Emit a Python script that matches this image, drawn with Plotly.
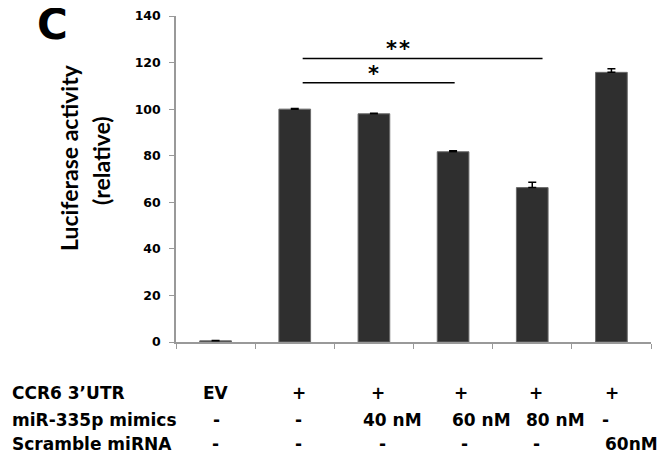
import plotly.graph_objects as go

categories = ["EV", "UTR", "40nM", "60nM", "80nM", "Scramble"]
values = [0.5, 100.0, 98.0, 81.7, 66.3, 115.8]
errors = [0.1, 0.3, 0.2, 0.4, 2.3, 1.5]
y_ticks = [0, 20, 40, 60, 80, 100, 120, 140]

row_labels = ["CCR6 3\u2019UTR", "miR-335p mimics", "Scramble miRNA"]
row1 = ["EV", "+", "+", "+", "+", "+"]
row2 = ["-", "-", "40 nM", "60 nM", "80 nM", "-"]
row3 = ["-", "-", "-", "-", "-", "60nM"]

sig_labels = ["*", "*\u200a*"]
sig_levels = [111.3, 121.8]
sig_ends = [3.02, 4.13]

FONT = "DejaVu Sans"

fig = go.Figure()
fig.add_trace(go.Bar(
    x=list(range(len(categories))), y=values,
    marker=dict(color="#2f2f2f", line=dict(color="#6a6a6a", width=1)),
    error_y=dict(type="data", array=errors, symmetric=False, arrayminus=[0]*6,
                 color="black", thickness=1.5, width=4, visible=True),
    width=0.4,
))

# significance lines
shapes = []
for lvl, end in zip(sig_levels, sig_ends):
    shapes.append(dict(type="line", xref="x", yref="y", x0=1.1, x1=end, y0=lvl, y1=lvl,
                       line=dict(color="black", width=1.5)))

ann = []
star_x = [2.0, 2.30]
for lab, lvl, sx in zip(sig_labels, sig_levels, star_x):
    ann.append(dict(text="<b>%s</b>" % lab, xref="x", yref="y", x=sx, y=lvl,
                    yshift=-5, showarrow=False, yanchor="bottom",
                    font=dict(family=FONT, size=21, color="black")))

# table
row_y = [-0.156, -0.239, -0.313]
row_offsets = [
    [0.0, 1.05, 2.05, 3.10, 4.05, 5.01],
    [0.01, 1.05, 2.24, 3.36, 4.29, 4.93],
    [0.0, 1.05, 2.11, 3.14, 4.05, 5.25],
]
for r, (lab, cells) in enumerate(zip(row_labels, [row1, row2, row3])):
    ann.append(dict(text="<b>%s</b>" % lab, xref="paper", yref="paper", x=-0.35, y=row_y[r],
                    xanchor="left", yanchor="middle", showarrow=False,
                    font=dict(family=FONT, size=17, color="black")))
    for c, t in enumerate(cells):
        ann.append(dict(text="<b>%s</b>" % t, xref="x", yref="paper", x=row_offsets[r][c],
                        y=row_y[r], xanchor="center", yanchor="middle", showarrow=False,
                        font=dict(family=FONT, size=17, color="black")))

# y axis title (two lines)
ann.append(dict(text="<b>Luciferase activity</b>", xref="paper", yref="paper",
                x=(69 - 176) / 475, y=(342 - 158) / 326, textangle=-90, showarrow=False,
                xanchor="center", yanchor="middle",
                font=dict(family="Lato", size=23, color="black")))
ann.append(dict(text="<b>(relative)</b>", xref="paper", yref="paper",
                x=(101 - 176) / 475, y=(342 - 161) / 326, textangle=-90, showarrow=False,
                xanchor="center", yanchor="middle",
                font=dict(family="Lato", size=23, color="black")))

# panel letter
ann.append(dict(text="<b>C</b>", xref="paper", yref="paper", x=(52 - 176) / 475,
                y=(342 - 25) / 326, showarrow=False, xanchor="center", yanchor="middle",
                font=dict(family=FONT, size=42, color="black")))

# the page body adds an 8px offset; size the figure so the plot lands where the reference has it
fig.update_layout(
    width=664, height=446,
    margin=dict(l=168, r=21, t=8, b=112, autoexpand=False),
    paper_bgcolor="white", plot_bgcolor="white",
    showlegend=False,
    shapes=shapes,
    annotations=ann,
    xaxis=dict(type="linear", range=[-0.5, 5.5], tickvals=[-0.5, 0.5, 1.5, 2.5, 3.5, 4.5, 5.5],
               showticklabels=False, ticks="outside", ticklen=5, tickcolor="#999999",
               showline=True, linecolor="#999999", linewidth=1.5, showgrid=False, zeroline=False,
               automargin=False),
    yaxis=dict(range=[0, 140], tickvals=y_ticks, ticks="outside", ticklen=5,
               tickcolor="#999999", showline=True, linecolor="#999999", linewidth=1.5,
               showgrid=False, zeroline=False, ticklabelstandoff=6, automargin=False,
               tickfont=dict(family=FONT, size=12.5, color="black", weight="bold")),
)

fig.write_html("out.html")
